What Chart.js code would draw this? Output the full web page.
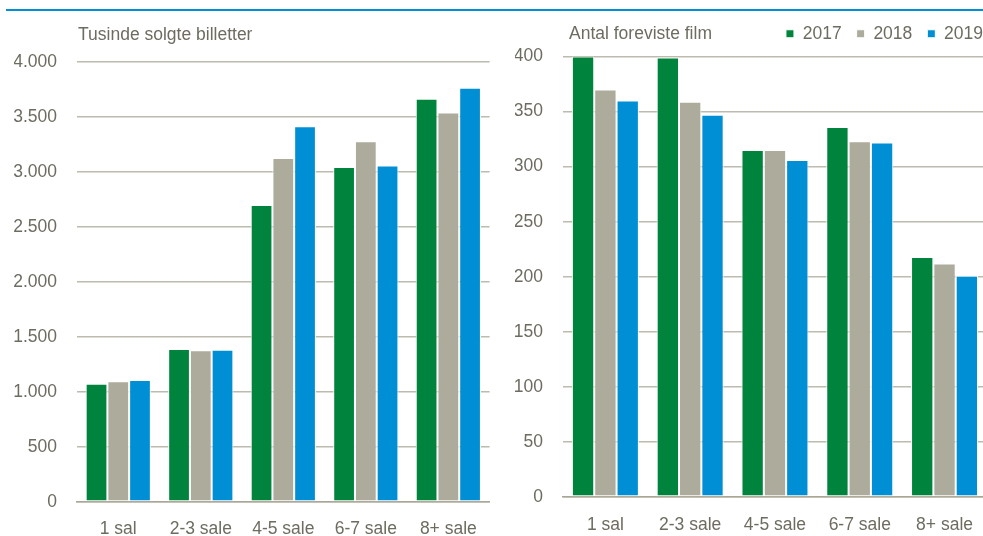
<!DOCTYPE html>
<html>
<head>
<meta charset="utf-8">
<script src="https://cdn.jsdelivr.net/npm/chart.js@4/dist/chart.umd.min.js"></script>
<style>
	html, body { margin: 0; padding: 0; background: #fff; overflow: hidden; }
	body { width: 983px; height: 536px; position: relative; }
	div.rule { position: absolute; left: 6px; top: 9px; width: 980px; height: 2px; background: #008fd5; }
	div.box { position: absolute; top: 0; height: 536px; }
	div.box.left { left: 0; width: 495px; }
	div.box.right { left: 490px; width: 502px; }
</style>
</head>
<body>
<div class="rule"></div>
<div class="box left"><canvas id="tickets"></canvas></div>
<div class="box right"><canvas id="films"></canvas></div>
<script>
// data
let categories = ['1 sal', '2-3 sale', '4-5 sale', '6-7 sale', '8+ sale'];
let years = ['2017', '2018', '2019'];
let tickets_2017 = [1075, 1390, 2700, 3045, 3665];
let tickets_2018 = [1097, 1380, 3127, 3280, 3540];
let tickets_2019 = [1110, 1385, 3415, 3058, 3765];
let films_2017 = [400, 399, 315, 336, 218];
let films_2018 = [370, 359, 315, 323, 212];
let films_2019 = [360, 347, 306, 322, 201];
let tickets_ticks = [0, 500, 1000, 1500, 2000, 2500, 3000, 3500, 4000];
let films_ticks = [0, 50, 100, 150, 200, 250, 300, 350, 400];

let colors = ['#00843d', '#adab9b', '#008fd5'];
let text_color = '#6e6c60';
let grid_color = '#bdbaae';
let font_family = '"Liberation Sans", Arial, sans-serif';
let font_size = 17.5;

function formatThousands(v)
{
	return String(v).replace(/\B(?=(\d{3})+(?!\d))/g, '.');
}

// caption above the plot, left aligned with the chart area
let caption_plugin = {
	id: 'caption',
	afterDraw: function(chart, args, opts)
	{
		let ctx = chart.ctx;
		ctx.save();
		ctx.font = font_size + 'px ' + font_family;
		ctx.fillStyle = text_color;
		ctx.textAlign = 'left';
		ctx.textBaseline = 'alphabetic';
		ctx.fillText(opts.text, chart.chartArea.left + (opts.dx || 0), opts.y);
		ctx.restore();
	}
};

// legend: a bit taller box and pushed to the right edge
let legend_tweak_plugin = {
	id: 'legend_tweak',
	beforeLayout: function(chart, args, opts)
	{
		let legend = chart.legend;
		if(legend && !legend._tweaked)
		{
			let fit = legend.fit;
			legend.fit = function()
			{
				fit.call(this);
				this.height += opts.extra_height;
			};
			legend._tweaked = true;
		}
	},
	afterLayout: function(chart, args, opts)
	{
		if(chart.legend)
		{
			chart.legend.left += opts.shift;
			chart.legend.right += opts.shift;
		}
	}
};

function makeDatasets(a, b, c)
{
	let sets = [];
	let values = [a, b, c];
	for(let i = 0; i < 3; i++)
	{
		sets.push(
			{
				label: years[i],
				data: values[i],
				backgroundColor: colors[i],
				borderColor: '#ffffff',
				borderWidth: 1,
				borderSkipped: false,
				barPercentage: 1,
				categoryPercentage: 0.79
			});
	}
	return sets;
}

function makeOptions(ticks, fmt, pad, y_width, x_padding, caption, legend)
{
	return {
		responsive: true,
		maintainAspectRatio: false,
		animation: false,
		layout: { padding: pad },
		plugins:
			{
				legend: legend,
				tooltip: { enabled: false },
				caption: caption,
				legend_tweak: { extra_height: 4, shift: 6 }
			},
		scales:
			{
				x:
					{
						grid: { display: false, drawTicks: false },
						border: { display: true, color: '#a9a697', width: 1.5 },
						afterFit: function(axis) { axis.height = 34; },
						ticks:
							{
								color: text_color,
								padding: x_padding,
								font: { family: font_family, size: font_size, lineHeight: 1 },
								maxRotation: 0
							}
					},
				y:
					{
						min: ticks[0],
						max: ticks[ticks.length - 1],
						afterBuildTicks: function(axis)
							{
								axis.ticks = ticks.map(function(v) { return { value: v }; });
							},
						afterFit: function(axis) { axis.width = y_width; },
						grid: { color: grid_color, lineWidth: 1.5, drawTicks: false },
						border: { display: false },
						ticks:
							{
								color: text_color,
								padding: 20,
								font: { family: font_family, size: font_size },
								callback: function(v) { return fmt(v); }
							}
					}
			}
	};
}

let tickets_chart = new Chart(
	document.getElementById('tickets'),
	{
		type: 'bar',
		data:
			{
				labels: categories,
				datasets: makeDatasets(tickets_2017, tickets_2018, tickets_2019)
			},
		options: makeOptions(
			tickets_ticks,
			formatThousands,
			{ left: 14, right: 2, top: 62, bottom: 0 },
			63,
			18,
			{ text: 'Tusinde solgte billetter', y: 40, dx: 1 },
			{ display: false }),
		plugins: [caption_plugin]
	});

let films_chart = new Chart(
	document.getElementById('films'),
	{
		type: 'bar',
		data:
			{
				labels: categories,
				datasets: makeDatasets(films_2017, films_2018, films_2019)
			},
		options: makeOptions(
			films_ticks,
			function(v) { return String(v); },
			{ left: 25, right: 0, top: 10, bottom: 5 },
			48,
			19,
			{ text: 'Antal foreviste film', y: 39, dx: 6 },
			{
				display: true,
				position: 'top',
				align: 'end',
				labels:
					{
						color: text_color,
						boxWidth: 8,
						boxHeight: 8,
						padding: 15,
						font: { family: font_family, size: font_size }
					}
			}),
		plugins: [caption_plugin, legend_tweak_plugin]
	});
</script>
</body>
</html>
